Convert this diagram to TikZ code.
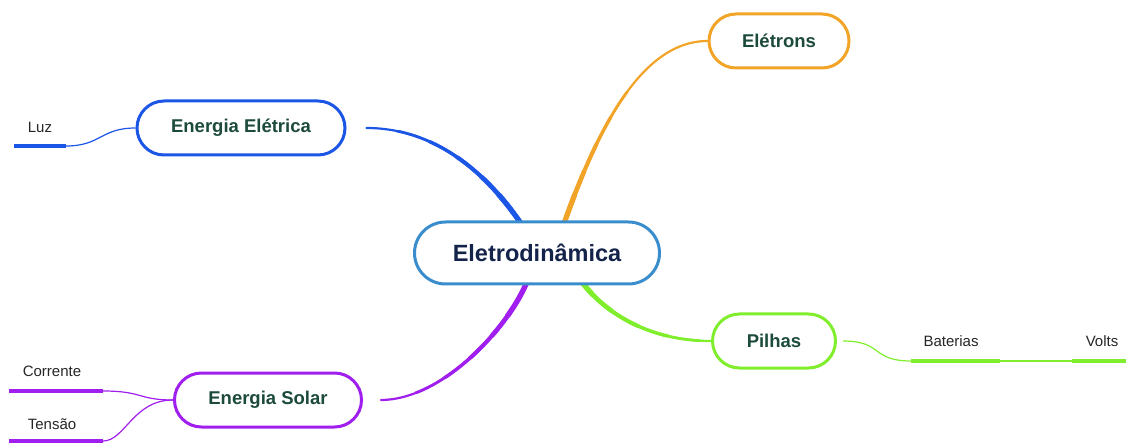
\documentclass[tikz,border=0pt]{standalone}
\usepackage{fontspec}
\setmainfont{Liberation Sans}
\usetikzlibrary{positioning,calc,backgrounds}

\definecolor{coreblue}{HTML}{3A8DCD}
\definecolor{corefont}{HTML}{14234A}
\definecolor{leaffont}{HTML}{1C4A3B}
\definecolor{eeblue}{HTML}{1C56E6}
\definecolor{elorange}{HTML}{F2A428}
\definecolor{solpurple}{HTML}{A01FEE}
\definecolor{pilgreen}{HTML}{80EE2C}

\tikzset{
  core/.style={draw=coreblue, line width=3pt, fill=white, rounded corners=31pt,
    minimum width=245pt, minimum height=62pt, text=corefont,
    font=\fontsize{23.5}{28}\selectfont\bfseries},
  topic/.style={draw=#1, line width=3pt, fill=white, rounded corners=27pt,
    minimum height=54pt, text=leaffont, font=\fontsize{18.5}{22}\selectfont\bfseries},
  branch/.style={draw=#1, line cap=round},
  twig/.style={draw=#1, line width=1.2pt},
  stem/.style={draw=#1, line width=4pt},
  leaf/.style={text=black!85, font=\fontsize{15}{18}\selectfont},
}

% the four main branches, drawn once per width (taper)
\newcommand{\corebranches}{%
  \draw[branch=eeblue] ([xshift=20pt]ee.east) .. controls +(75,0) and +(-30,45) .. ($(core.north)+(-14,-6)$);
  \draw[branch=elorange] ($(core.north)+(26,-6)$) .. controls +(35,100) and +(-65,0) .. (el.west);
  \draw[branch=solpurple] ([xshift=18pt]sol.east) .. controls +(60,0) and +(-20,-50) .. ($(core.south)+(-9,6)$);
  \draw[branch=pilgreen] ($(core.south)+(43,6)$) .. controls +(25,-35) and +(-60,0) .. (pil.west);
}

\begin{document}
\begin{tikzpicture}[x=1pt,y=1pt]
      \useasboundingbox (0,0) rectangle (1126,-443);

      \node[core](core) at (537,-253){Eletrodinâmica};
      \node[topic=eeblue, minimum width=208pt](ee) at (241,-128){Energia Elétrica};
      \node[topic=elorange, minimum width=140pt](el) at (779,-41){Elétrons};
      \node[topic=solpurple, minimum width=187pt](sol) at (268,-400){Energia Solar};
      \node[topic=pilgreen, minimum width=123pt](pil) at (774,-341){Pilhas};

      % leaves
      \coordinate (luzL) at (14,-146);   \coordinate (luzR) at (66,-146);
      \coordinate (corL) at (9,-391);    \coordinate (corR) at (103,-391);
      \coordinate (tenL) at (9,-441);    \coordinate (tenR) at (103,-441);
      \coordinate (batL) at (911,-361);  \coordinate (batR) at (1000,-361);
      \coordinate (volL) at (1072,-361); \coordinate (volR) at (1126,-361);
      \node[leaf](luz) at (40,-127){Luz};
      \node[leaf](cor) at (52,-371){Corrente};
      \node[leaf](ten) at (52,-424){Tensão};
      \node[leaf](bat) at (951,-341){Baterias};
      \node[leaf](vol) at (1102,-341){Volts};

      \begin{scope}[on background layer]
      \foreach \r/\w in {400/2.2, 185/2.8, 155/3.4, 125/4, 95/4.6, 70/5.2}{
        \begin{scope}
          \clip (core.center) circle (\r);
          \begin{scope}[line width=\w pt]
            \corebranches
          \end{scope}
        \end{scope}
      }
      \end{scope}

      \draw[stem=eeblue] (luzL) -- (luzR);
      \draw[twig=eeblue] (luzR) .. controls +(35,0) and +(-35,0) .. (ee.west);
      \draw[stem=solpurple] (corL) -- (corR);
      \draw[twig=solpurple] (corR) .. controls +(40,0) and +(-35,0) .. (sol.west);
      \draw[stem=solpurple] (tenL) -- (tenR);
      \draw[twig=solpurple] (tenR) .. controls +(22,0) and +(-40,0) .. (sol.west);
      \draw[twig=pilgreen] ([xshift=6pt]pil.east) .. controls +(40,0) and +(-40,0) .. (batL);
      \draw[stem=pilgreen] (batL) -- (batR);
      \draw[twig=pilgreen] (batR) -- (volL);
      \draw[stem=pilgreen] (volL) -- (volR);
    \end{tikzpicture}
\end{document}
